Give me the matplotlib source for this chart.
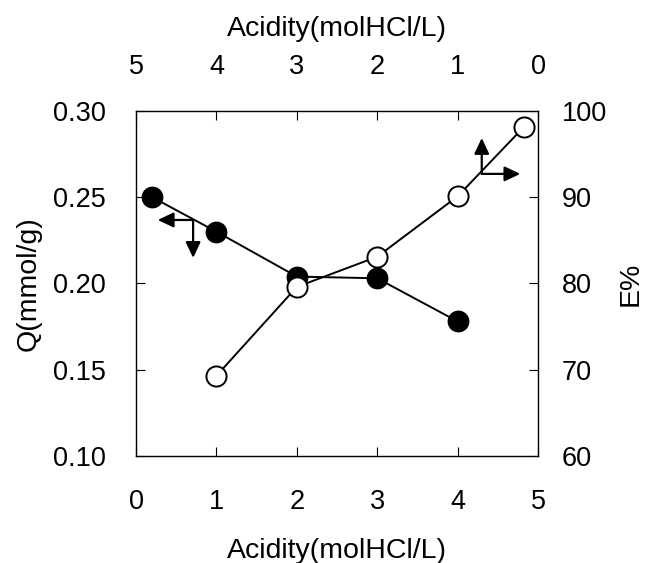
import matplotlib
matplotlib.use("Agg")
import matplotlib.pyplot as plt

plt.rcParams["font.family"] = ["Liberation Sans", "DejaVu Sans"]

# Q (filled circles): bottom acidity axis, left Q axis
q_acidity = [0.2, 1, 2, 3, 4]
q_values = [0.250, 0.230, 0.204, 0.203, 0.178]

# E% (open circles): top acidity axis, right E% axis
e_acidity = [4, 3, 2, 1, 0.18]
e_values = [69.3, 79.6, 83.1, 90.1, 98.1]

x_ticks = [0, 1, 2, 3, 4, 5]
q_ticks = [0.10, 0.15, 0.20, 0.25, 0.30]
e_ticks = [60, 70, 80, 90, 100]
x_label = "Acidity(molHCl/L)"

fs = 19.5
lfs = 20.5
fig = plt.figure(figsize=(6.49, 5.63), dpi=100)
pos = [0.2096, 0.190, 0.6194, 0.613]
ax = fig.add_axes(pos)
ax2 = fig.add_axes(pos, frameon=False)

ax.plot(q_acidity, q_values, color="black", lw=1.4, marker="o", ms=14.5,
        mfc="black", mec="black", mew=1.2, zorder=3)
ax2.plot(e_acidity, e_values, color="black", lw=1.4, marker="o", ms=14.5,
         mfc="white", mec="black", mew=1.4, zorder=3)

ax.set_xlim(0, 5)
ax.set_ylim(0.10, 0.30)
ax.set_xticks(x_ticks)
ax.set_yticks(q_ticks)
ax.set_yticklabels([f"{v:.2f}" for v in q_ticks])
ax.tick_params(direction="in", length=6.5, width=0.8, labelsize=fs, pad=22,
               top=False, right=False)
ax.tick_params(axis="x", pad=24)
ax.set_xlabel(x_label, fontsize=lfs, labelpad=16)
ax.set_ylabel("Q(mmol/g)", fontsize=lfs, labelpad=8)
for s in ax.spines.values():
    s.set_linewidth(1.0)

ax2.set_xlim(5, 0)
ax2.set_ylim(60, 100)
ax2.set_xticks(x_ticks)
ax2.set_yticks(e_ticks)
ax2.xaxis.tick_top()
ax2.yaxis.tick_right()
ax2.xaxis.set_label_position("top")
ax2.yaxis.set_label_position("right")
ax2.tick_params(direction="in", length=6.5, width=0.8, labelsize=fs,
                bottom=False, left=False)
ax2.tick_params(axis="x", pad=22)
ax2.tick_params(axis="y", pad=17)
ax2.set_xlabel(x_label, fontsize=lfs, labelpad=13)
ax2.set_ylabel("E%", fontsize=lfs, labelpad=8)
ax2.patch.set_visible(False)

# direction arrows (which axes each series belongs to)
ap = dict(arrowstyle="-|>,head_length=0.95,head_width=0.45", color="black", lw=1.6,
          shrinkA=0, shrinkB=0)
ax.annotate("", xy=(0.27, 0.2368), xytext=(0.71, 0.2368), arrowprops=ap, zorder=4)
ax.annotate("", xy=(0.71, 0.2148), xytext=(0.71, 0.2368), arrowprops=ap, zorder=4)
ax.annotate("", xy=(4.30, 0.2843), xytext=(4.30, 0.2635), arrowprops=ap, zorder=4)
ax.annotate("", xy=(4.78, 0.2635), xytext=(4.30, 0.2635), arrowprops=ap, zorder=4)

fig.savefig("out.png", dpi=100)
